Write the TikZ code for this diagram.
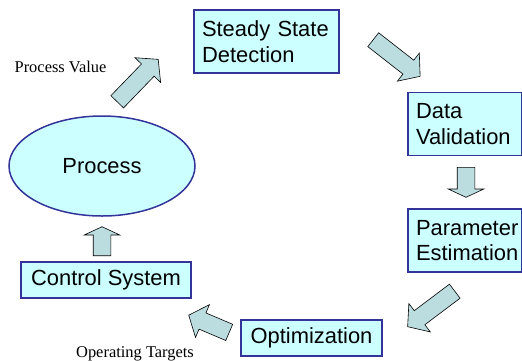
\documentclass[tikz,border=0pt]{standalone}
\usepackage{fontspec}
\setmainfont{Liberation Sans}
\newfontfamily\labelfont{Liberation Serif}
\usepackage{xcolor}
\usepackage{tikz}
\usetikzlibrary{shapes.geometric,shapes.arrows}

\definecolor{boxfill}{RGB}{204,255,255}
\definecolor{boxline}{RGB}{51,51,153}
\definecolor{arrowfill}{RGB}{187,221,224}

\begin{document}
\begin{tikzpicture}[x=1bp,y=-1bp,
    stage/.style={draw=boxline, line width=1.5bp, fill=boxfill, text=black, font=\fontsize{22}{25.5}\selectfont, inner xsep=8bp, inner ysep=0bp},
    twoline/.style={stage, align=left, minimum height=63bp},
    oneline/.style={stage, align=center, minimum height=36bp},
    flow/.style={single arrow, draw=black, line width=0.6bp, fill=arrowfill, inner xsep=0bp, inner ysep=8.5bp, single arrow head extend=9bp, anchor=tail},
    note/.style={font=\labelfont\fontsize{16.5}{18}\selectfont, text=black}]
    \useasboundingbox (0,0) rectangle (522,360);
    \node[draw=boxline, line width=1.5bp, fill=boxfill, ellipse, minimum width=186bp, minimum height=100bp, inner sep=0bp, font=\fontsize{22}{25.5}\selectfont] (proc) at (102,166) {Process};
    \node[twoline, text width=129bp] (ssd) at (266.5,41.5) {Steady State\\Detection};
    \node[twoline, text width=97.5bp] (dv) at (464.75,124) {Data\\Validation};
    \node[twoline, text width=97.5bp] (pe) at (464.75,240.5) {Parameter\\Estimation};
    \node[oneline, minimum width=141bp] (opt) at (311.5,338) {Optimization};
    \node[oneline, minimum width=170bp] (cs) at (106,280) {Control System};
    \node[flow, rotate=46, minimum height=59bp, single arrow tip angle=100] (pv) at (117,102) {};
    \node[flow, rotate=-38, minimum height=59.5bp, single arrow tip angle=100] (ssd-dv) at (373,39.5) {};
    \node[flow, rotate=-90, minimum height=30bp, single arrow tip angle=130] (dv-pe) at (466,167) {};
    \node[flow, rotate=217, minimum height=59bp, single arrow tip angle=100] (pe-opt) at (455,291) {};
    \node[flow, rotate=157, minimum height=44bp, single arrow tip angle=100] (ot) at (229.5,332.5) {};
    \node[flow, rotate=90, minimum height=29bp, single arrow tip angle=130] (cs-proc) at (102,256) {};
    \node[note] (pvlabel) at (60.5,67) {Process Value};
    \node[note, anchor=base] (otlabel) at (135,357.7) {Operating Targets};
\end{tikzpicture}
\end{document}
